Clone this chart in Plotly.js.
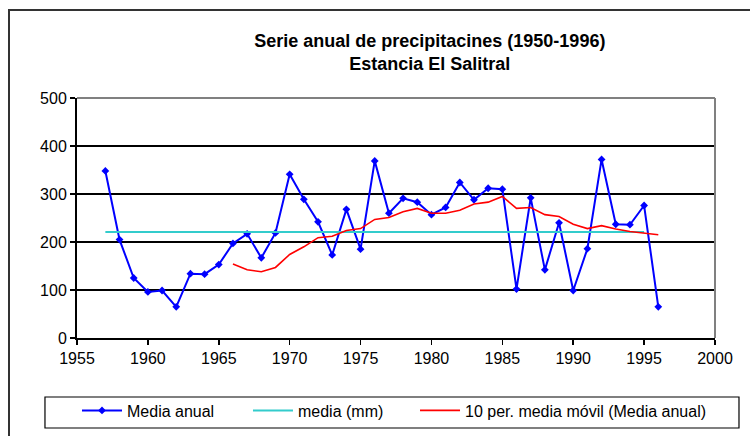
<!DOCTYPE html>
<html>
<head>
<meta charset="utf-8">
<script src="https://cdn.plot.ly/plotly-3.0.1.min.js"></script>
<style>
html,body{margin:0;padding:0;background:#fff;}
#frame{position:absolute;left:8px;top:9px;width:800px;height:500px;border-left:2px solid #333;border-top:2px solid #333;}
#chart{position:absolute;left:0;top:0;width:750px;height:436px;}
</style>
</head>
<body>
<div id="frame"></div>
<div id="chart"></div>
<script>
const years = [1957,1958,1959,1960,1961,1962,1963,1964,1965,1966,1967,1968,1969,1970,1971,1972,1973,1974,1975,1976,1977,1978,1979,1980,1981,1982,1983,1984,1985,1986,1987,1988,1989,1990,1991,1992,1993,1994,1995,1996];
const mediaAnual = [348,205,125,96,99,65,134,133,153,197,217,167,219,341,289,242,173,268,185,369,260,291,283,257,272,324,288,312,310,102,292,142,240,99,186,372,237,236,276,65];
const mediaYears = [1957,1995];
const mediaValue = [221,221];
const maYears = [1966,1967,1968,1969,1970,1971,1972,1973,1974,1975,1976,1977,1978,1979,1980,1981,1982,1983,1984,1985,1986,1987,1988,1989,1990,1991,1992,1993,1994,1995,1996];
const movingAvg = [154,142,138,147,174,190,209,212,224,228,247,251,263,270,260,260,266,279,283,295,270,272,257,253,237,228,234,227,222,219,215];
const xTicks = [1955,1960,1965,1970,1975,1980,1985,1990,1995,2000];
const yTicks = [0,100,200,300,400,500];

const FONT = 'Liberation Sans, Arial, sans-serif';

const traces = [
  {x: years, y: mediaAnual, name: 'Media anual', type: 'scatter', mode: 'lines+markers', legend: 'legend',
   line: {color: '#0000FF', width: 2}, marker: {symbol: 'diamond', size: 6, color: '#0000FF'}},
  {x: mediaYears, y: mediaValue, name: 'media (mm)', type: 'scatter', mode: 'lines', legend: 'legend2',
   line: {color: '#33CCCC', width: 2}},
  {x: maYears, y: movingAvg, name: '10 per. media móvil (Media anual)', type: 'scatter', mode: 'lines', legend: 'legend3',
   line: {color: '#FF0000', width: 1.6}}
];

function leg(x) {
  return {orientation: 'h', x: x, xanchor: 'left', y: -0.302, yanchor: 'middle',
    bgcolor: 'rgba(0,0,0,0)', borderwidth: 0, itemwidth: 40,
    font: {family: FONT, size: 16, color: '#000'}};
}

const layout = {
  width: 750, height: 436,
  paper_bgcolor: 'rgba(0,0,0,0)', plot_bgcolor: '#fff',
  margin: {l: 77, r: 35, t: 98, b: 98, autoexpand: false},
  font: {family: FONT, size: 16, color: '#000'},
  title: {text: '<b>Serie anual de precipitacines (1950-1996)<br>Estancia El Salitral</b>',
    font: {family: FONT, size: 18, color: '#000'},
    x: 0.553, xref: 'paper', xanchor: 'center', y: 0.893, yref: 'container', yanchor: 'top'},
  xaxis: {range: [1955, 2000], tickvals: xTicks, ticktext: xTicks.map(String),
    showgrid: false, zeroline: false, showline: true, linecolor: '#000', linewidth: 2,
    ticks: 'outside', ticklen: 5, tickwidth: 1.5, tickcolor: '#000',
    tickfont: {family: FONT, size: 16, color: '#000'}},
  yaxis: {range: [0, 500], tickvals: yTicks, ticktext: yTicks.map(String),
    showgrid: true, gridcolor: '#000', gridwidth: 1.6, zeroline: false,
    showline: true, linecolor: '#000', linewidth: 2,
    ticks: 'outside', ticklen: 5, tickwidth: 1.5, tickcolor: '#000',
    tickfont: {family: FONT, size: 16, color: '#000'}},
  showlegend: true,
  legend: leg(0.0),
  legend2: leg(0.268),
  legend3: leg(0.5298),
  shapes: [
    {type: 'line', xref: 'paper', yref: 'paper', x0: 0, x1: 1, y0: 1, y1: 1, line: {color: '#808080', width: 2}},
    {type: 'line', xref: 'paper', yref: 'paper', x0: 1, x1: 1, y0: 0, y1: 1, line: {color: '#808080', width: 2}},
    {type: 'rect', xref: 'paper', yref: 'paper', x0: -0.0502, x1: 1.0376, y0: -0.2458, y1: -0.375,
     line: {color: '#000', width: 1.2}, fillcolor: 'rgba(0,0,0,0)'}
  ]
};

Plotly.newPlot('chart', traces, layout, {displayModeBar: false, staticPlot: true});
</script>
</body>
</html>
